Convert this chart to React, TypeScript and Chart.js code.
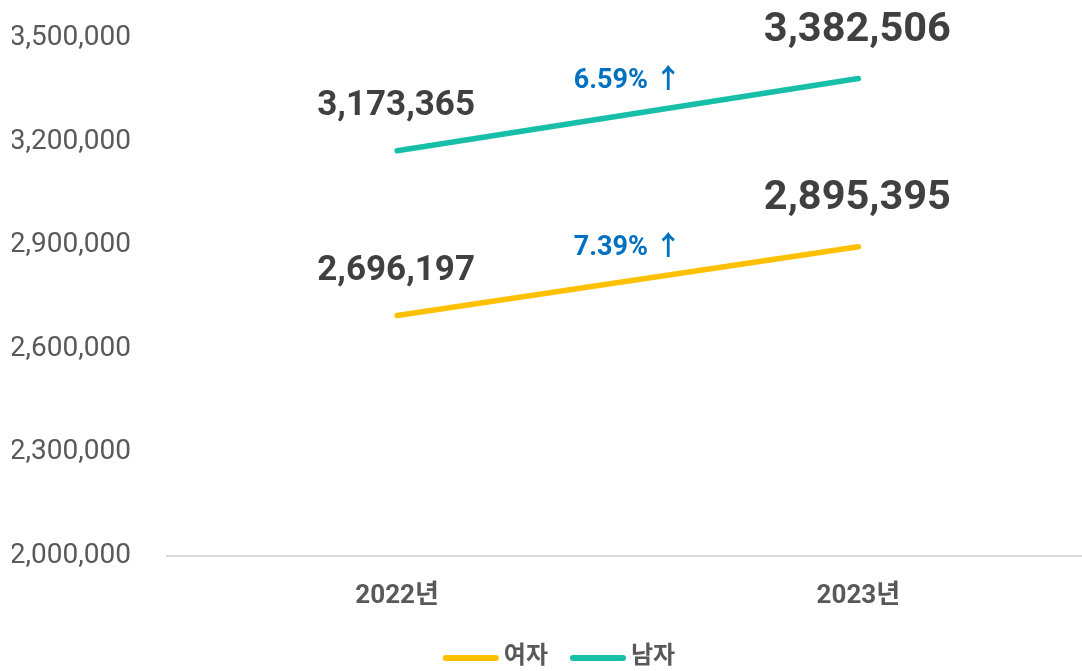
import { useEffect, useRef } from 'react';
import { Chart, registerables } from 'chart.js';

Chart.register(...registerables);

const categories = ['2022년', '2023년'];
const seriesNames = ['여자', '남자'];
const femaleValues = [2696197, 2895395];
const maleValues = [3173365, 3382506];
const growthLabels = ['7.39% ↑', '6.59% ↑'];
const seriesColors = ['#FFC000', '#17BFA9'];
const yMin = 2000000;
const yMax = 3500000;
const yStep = 300000;

const FONT = 'Roboto, "Noto Sans CJK KR", sans-serif';

const valueLabelPlugin = {
  id: 'valueLabels',
  afterDatasetsDraw(chart: any) {
    const ctx = chart.ctx;
    ctx.save();
    chart.data.datasets.forEach((ds: any, di: number) => {
      const meta = chart.getDatasetMeta(di);
      meta.data.forEach((pt: any, i: number) => {
        const v = ds.data[i] as number;
        const size = i === 0 ? 35 : 41.5;
        const off = i === 0 ? 36 : 38;
        ctx.font = `bold ${size}px ${FONT}`;
        ctx.fillStyle = '#404040';
        ctx.textAlign = 'center';
        ctx.textBaseline = 'alphabetic';
        ctx.fillText(v.toLocaleString('en-US'), pt.x - 1, pt.y - off);
      });
      const p0 = meta.data[0];
      const p1 = meta.data[1];
      ctx.font = `bold 27px ${FONT}`;
      ctx.fillStyle = '#0070C0';
      ctx.textAlign = 'center';
      ctx.textBaseline = 'middle';
      ctx.fillText(growthLabels[di], (p0.x + p1.x) / 2, (p0.y + p1.y) / 2 - 33);
    });
    ctx.restore();
  },
};

const legendPlugin = {
  id: 'customLegend',
  afterDraw(chart: any) {
    const ctx = chart.ctx;
    ctx.save();
    ctx.font = `bold 24px ${FONT}`;
    const lineW = 56;
    const gap = 5;
    const spacing = 22;
    const items = chart.data.datasets.map((ds: any) => ({
      text: ds.label,
      color: ds.borderColor,
      w: ctx.measureText(ds.label).width,
    }));
    const total = items.reduce((s: number, it: any) => s + lineW + gap + it.w, 0) + spacing * (items.length - 1);
    let x = 559 - total / 2;
    const y = 658;
    items.forEach((it: any) => {
      ctx.strokeStyle = it.color;
      ctx.lineWidth = 6;
      ctx.lineCap = 'round';
      ctx.beginPath();
      ctx.moveTo(x + 3, y);
      ctx.lineTo(x + lineW - 3, y);
      ctx.stroke();
      ctx.fillStyle = '#595959';
      ctx.textAlign = 'left';
      ctx.textBaseline = 'middle';
      ctx.fillText(it.text, x + lineW + gap, y - 1);
      x += lineW + gap + it.w + spacing;
    });
    ctx.restore();
  },
};

export default function App() {
  const canvasRef = useRef<HTMLCanvasElement | null>(null);

  useEffect(() => {
    document.body.style.margin = '0';
    document.body.style.overflow = 'hidden';
    if (!canvasRef.current) return;
    const chart = new Chart(canvasRef.current, {
      type: 'line',
      data: {
        labels: categories,
        datasets: [
          {
            label: seriesNames[0],
            data: femaleValues,
            borderColor: seriesColors[0],
            backgroundColor: seriesColors[0],
            borderWidth: 5.5,
            borderCapStyle: 'round',
            pointRadius: 0,
            pointHoverRadius: 0,
          },
          {
            label: seriesNames[1],
            data: maleValues,
            borderColor: seriesColors[1],
            backgroundColor: seriesColors[1],
            borderWidth: 5.5,
            borderCapStyle: 'round',
            pointRadius: 0,
            pointHoverRadius: 0,
          },
        ],
      },
      options: {
        animation: false,
        responsive: true,
        maintainAspectRatio: false,
        layout: { padding: { left: 12, top: 38, right: 0, bottom: 35 } },
        plugins: {
          legend: { display: false },
          tooltip: { enabled: false },
        },
        scales: {
          x: {
            offset: true,
            grid: { display: false, drawTicks: false },
            border: { display: true, color: '#D9D9D9', width: 2 },
            ticks: {
              padding: 24.4,
              color: '#595959',
              font: { family: FONT, size: 26, weight: 'bold' as any },
            },
          },
          y: {
            min: yMin,
            max: yMax,
            grid: { display: false, drawTicks: false },
            border: { display: false },
            afterFit: (scale: any) => {
              scale.width = 154.5;
              scale.paddingTop = 0;
              scale.paddingBottom = 0;
            },
            ticks: {
              stepSize: yStep,
              padding: 35.5,
              color: '#595959',
              font: { family: FONT, size: 28 },
              callback: (v: any) => Number(v).toLocaleString('en-US'),
            },
          },
        },
      },
      plugins: [valueLabelPlugin, legendPlugin],
    });
    return () => chart.destroy();
  }, []);

  return (
    <div style={{ position: 'fixed', left: 0, top: 0, width: 1089, height: 671 }}>
      <canvas ref={canvasRef} />
    </div>
  );
}
